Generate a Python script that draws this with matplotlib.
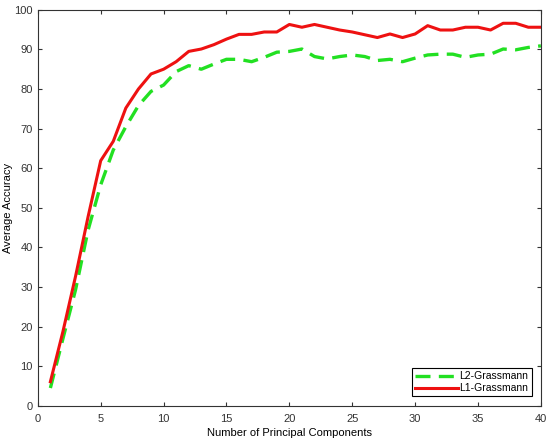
import numpy as np
from matplotlib import pyplot as plt

plt.rcParams['font.family'] = ['Liberation Sans', 'DejaVu Sans']

components = np.arange(1, 41)
l2_acc = [4.5, 17.0, 29.3, 44.4, 55.8, 64.6, 70.5, 75.8, 79.4, 81.0,
          84.4, 85.9, 85.0, 86.3, 87.5, 87.5, 86.9, 88.0, 89.3, 89.5,
          90.1, 88.2, 87.6, 88.2, 88.6, 88.2, 87.2, 87.5, 86.9, 87.8,
          88.6, 88.8, 88.8, 88.0, 88.6, 88.8, 90.1, 89.9, 90.5, 90.9]
l1_acc = [6.1, 18.8, 32.7, 47.8, 61.9, 66.8, 75.2, 80.0, 83.8, 85.0,
          86.9, 89.5, 90.1, 91.2, 92.6, 93.8, 93.8, 94.4, 94.4, 96.3,
          95.6, 96.3, 95.6, 94.9, 94.4, 93.7, 93.0, 93.9, 93.0, 93.9,
          96.0, 94.9, 94.9, 95.6, 95.6, 94.9, 96.6, 96.6, 95.6, 95.6]

fig = plt.figure(figsize=(5.48, 4.46), dpi=100)
ax = fig.add_axes([0.069, 0.09, 0.918, 0.888])

ax.plot(components, l2_acc, color='#22e022', linestyle=(0, (4.5, 2.5)), linewidth=2.4, label='L2-Grassmann')
ax.plot(components, l1_acc, color='#ee1111', linewidth=2.2, label='L1-Grassmann')

ax.set_xlim(0, 40)
ax.set_ylim(0, 100)
ax.set_xticks(np.arange(0, 41, 5))
ax.set_yticks(np.arange(0, 101, 10))
ax.tick_params(direction='in', labelsize=8, length=3, top=True, right=True, colors='#333333')
ax.tick_params(axis='x', pad=6)
for s in ax.spines.values():
    s.set_color('#333333')
    s.set_linewidth(0.8)
ax.set_xlabel('Number of Principal Components', fontsize=8, labelpad=3)
ax.set_ylabel('Average Accuracy', fontsize=8, labelpad=1)

leg = ax.legend(loc='lower right', fontsize=7.5, fancybox=False, edgecolor='black',
                framealpha=1, borderpad=0.3, handlelength=4.2, labelspacing=0.2,
                handletextpad=0.1, borderaxespad=0.9)
leg.get_frame().set_linewidth(0.8)

fig.savefig('out.png', dpi=100)
